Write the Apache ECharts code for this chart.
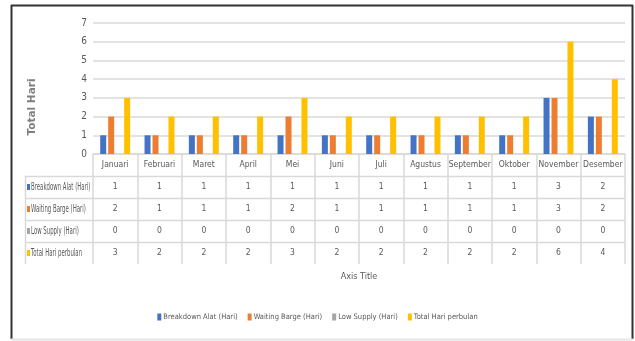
<!DOCTYPE html>
<html>
<head>
<meta charset="utf-8">
<script src="https://cdn.jsdelivr.net/npm/echarts@6/dist/echarts.min.js"></script>
<style>
html,body{margin:0;padding:0;background:#fff;}
#c{width:635px;height:341px;}
</style>
</head>
<body>
<div id="c"></div>
<script>
// ---- data ----
var months = ['Januari','Februari','Maret','April','Mei','Juni','Juli','Agustus','September','Oktober','November','Desember'];
var seriesNames = ['Breakdown Alat (Hari)','Waiting Barge (Hari)','Low Supply (Hari)','Total Hari perbulan'];
var breakdownAlat = [1,1,1,1,1,1,1,1,1,1,3,2];
var waitingBarge  = [2,1,1,1,2,1,1,1,1,1,3,2];
var lowSupply     = [0,0,0,0,0,0,0,0,0,0,0,0];
var totalHari     = [3,2,2,2,3,2,2,2,2,2,6,4];
var yTicks = [0,1,2,3,4,5,6,7];
var colors = ['#4472C4','#ED7D31','#A5A5A5','#FFC000'];
var seriesData = [breakdownAlat, waitingBarge, lowSupply, totalHari];

// ---- layout ----
var W = 635, H = 341;
var gridL = 93, gridR = 625, gridT = 23, gridB = 154;
var rowH = 22;
var tableL = 25;
var FONT = '"Liberation Sans Narrow","DejaVu Sans Condensed","Liberation Sans",sans-serif';
var TXT = '#595959';
var LINE = '#D9D9D9';

var chart = echarts.init(document.getElementById('c'), null, {renderer:'canvas'});

var series = seriesNames.map(function(n, i){
  return {
    name: n, type: 'bar', data: seriesData[i],
    barWidth: 6, barGap: '33%',
    itemStyle: {color: colors[i]},
    emphasis: {disabled: true}
  };
});

var graphics = [];
// outer frame
graphics.push({type:'line', shape:{x1:11.5,y1:5,x2:11.5,y2:339}, style:{stroke:'#333',lineWidth:2}, silent:true});
graphics.push({type:'line', shape:{x1:11,y1:5.5,x2:633,y2:5.5}, style:{stroke:'#333',lineWidth:2}, silent:true});
graphics.push({type:'line', shape:{x1:632.5,y1:5,x2:632.5,y2:339}, style:{stroke:'#333',lineWidth:2}, silent:true});
graphics.push({type:'line', shape:{x1:11,y1:339.5,x2:633,y2:339.5}, style:{stroke:'#E6E6E6',lineWidth:2}, silent:true});
// table horizontal lines
for (var r = 1; r <= seriesNames.length; r++) {
  var y = gridB + r*rowH + 0.5;
  graphics.push({type:'line', shape:{x1:tableL,y1:y,x2:gridR,y2:y}, style:{stroke:LINE,lineWidth:1.5}, silent:true});
}
// table left border
graphics.push({type:'line', shape:{x1:tableL+0.5,y1:gridB+rowH,x2:tableL+0.5,y2:gridB+rowH*(seriesNames.length+1)}, style:{stroke:LINE,lineWidth:1.5}, silent:true});
// row headers (legend keys + names, condensed)
seriesNames.forEach(function(n, i){
  var cy = gridB + rowH*(i+1) + rowH/2;
  graphics.push({type:'rect', silent:true, shape:{x:tableL+2, y:cy-3, width:3, height:6}, style:{fill:colors[i]}});
  graphics.push({type:'text', silent:true, x: tableL+6, y: cy, scaleX: 0.6,
    style:{text:n, fill:TXT, fontSize:10, fontFamily:FONT, align:'left', verticalAlign:'middle'}});
});
// y axis title
graphics.push({type:'text', silent:true, x:32, y:107, rotation:Math.PI/2,
  style:{text:'Total Hari', fill:'#7F7F7F', fontSize:10.5, fontWeight:'bold', fontFamily:'DejaVu Sans', align:'center', verticalAlign:'middle'}});

chart.setOption({
  animation: false,
  backgroundColor: '#fff',
  grid: {left: gridL, right: W - gridR, top: gridT, bottom: H - gridB, containLabel: false},
  legend: {
    bottom: 15, left: 'center', itemWidth: 4, itemHeight: 7, itemGap: 10,
    icon: 'rect',
    textStyle: {color: TXT, fontSize: 7.5, fontFamily: FONT, padding:[0,0,0,-3]},
    data: seriesNames
  },
  xAxis: {
    type: 'category', data: months,
    name: 'Axis Title', nameLocation: 'middle', nameGap: 118,
    nameTextStyle: {color: TXT, fontSize: 9, fontFamily: FONT},
    axisLine: {show: true, lineStyle: {color: LINE, width: 1.5}},
    axisTick: {show: true, length: rowH*(seriesNames.length+1), lineStyle: {color: LINE, width: 1.5}},
    axisLabel: {
      margin: 0, interval: 0, color: TXT, fontSize: 8.5, fontFamily: FONT,
      lineHeight: rowH, verticalAlign: 'top',
      formatter: function(v, idx){
        var lines = [v];
        seriesData.forEach(function(arr){ lines.push(String(arr[idx])); });
        return lines.join('\n');
      }
    }
  },
  yAxis: {
    type: 'value', min: 0, max: 7, interval: 1,
    axisLine: {show: false}, axisTick: {show: false},
    axisLabel: {color: TXT, fontSize: 10, fontFamily: FONT, margin: 6,
      formatter: function(v){ return yTicks.indexOf(v) >= 0 ? String(v) : ''; }},
    splitLine: {lineStyle: {color: '#E3E3E3', width: 2}}
  },
  graphic: graphics,
  series: series
});
</script>
</body>
</html>
